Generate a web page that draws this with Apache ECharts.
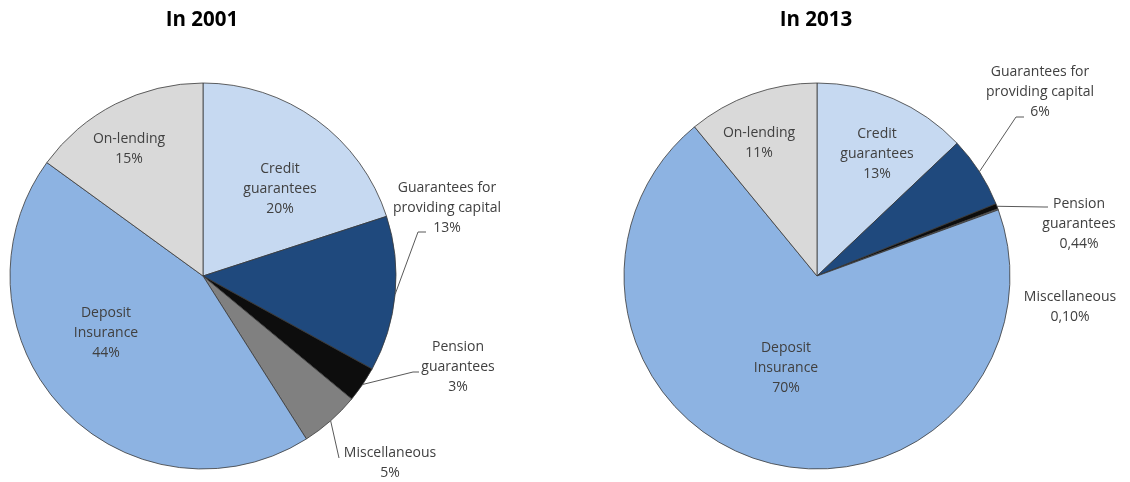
<!DOCTYPE html>
<html><head><meta charset="utf-8">
<script src="https://cdn.jsdelivr.net/npm/echarts@6/dist/echarts.min.js"></script>
<style>html,body{margin:0;padding:0;background:#fff}#c{width:1130px;height:482px}</style>
</head><body><div id="c"></div>
<script>
const categories = ['Credit\nguarantees', 'Guarantees for\nproviding capital', 'Pension\nguarantees', 'Miscellaneous', 'Deposit\nInsurance', 'On-lending'];
const values2001 = [20, 13, 3, 5, 44, 15];
const labels2001 = ['20%', '13%', '3%', '5%', '44%', '15%'];
const values2013 = [13, 6, 0.44, 0.10, 70, 11];
const labels2013 = ['13%', '6%', '0,44%', '0,10%', '70%', '11%'];
const titles = ['In 2001', 'In 2013'];

const colors = ['#C6D9F1', '#1F497D', '#0D0D0D', '#808080', '#8DB3E2', '#D9D9D9'];
// label placement offsets relative to pie centre (layout only)
const labelOffsets2001 = [[77, -87], [244, -68], [255, 91], [187, 187], [-97, 57], [-74, -127]];
const labelOffsets2013 = [[60, -122], [223, -184], [262, -52], [253, 31], [-31, 92], [-58, -133]];
// leader-line end points relative to pie centre, and the short last segment length (null = no line)
const lineEnds2001 = [null, [223, -44, 8], [216, 96, 6], [136, 182, 0], null, null];
const lineEnds2013 = [null, [207, -159, 8], [231, -69, 4], null, null, null];
const centers = [[203, 276], [817, 276]];
const R = 193;

function baseSeries(c) {
  return {
    type: 'pie',
    center: c,
    radius: [0, R],
    startAngle: 90,
    clockwise: true,
    avoidLabelOverlap: false,
    animation: false,
    silent: true
  };
}

function textSeries(idx, vals, labs, offs) {
  const c = centers[idx];
  return Object.assign(baseSeries(c), {
    itemStyle: { borderColor: '#3a3a3a', borderWidth: 0.8 },
    label: {
      show: true,
      position: 'inside',
      formatter: p => p.name + '\n' + p.data.pct,
      fontFamily: 'Open Sans',
      fontSize: 14,
      lineHeight: 20,
      color: '#404040',
      align: 'center'
    },
    labelLine: { show: false },
    labelLayout: function (p) {
      const o = offs[p.dataIndex];
      return { x: c[0] + o[0], y: c[1] + o[1], align: 'center', verticalAlign: 'middle' };
    },
    data: vals.map((v, i) => ({ name: categories[i], value: v, pct: labs[i], itemStyle: { color: colors[i] } }))
  });
}

function lineSeries(idx, vals, ends) {
  const c = centers[idx];
  return Object.assign(baseSeries(c), {
    z: 3,
    itemStyle: { color: 'rgba(0,0,0,0)', borderWidth: 0 },
    label: {
      show: true,
      position: 'outside',
      formatter: ' ',
      fontSize: 1,
      lineHeight: 2,
      width: 40,
      height: 2,
      color: 'rgba(0,0,0,0)'
    },
    labelLine: { show: true, length: 10, lineStyle: { color: '#595959', width: 1 } },
    labelLayout: function (p) {
      const e = ends[p.dataIndex];
      if (!e) return {};
      return { x: c[0] + e[0], y: c[1] + e[1], align: 'left', verticalAlign: 'middle' };
    },
    data: vals.map((v, i) => {
      const e = ends[i];
      return {
        name: categories[i],
        value: v,
        label: { show: !!e },
        labelLine: { show: !!e, length2: e ? e[2] : 0 }
      };
    })
  });
}

const chart = echarts.init(document.getElementById('c'), null, { renderer: 'canvas' });
chart.setOption({
  backgroundColor: '#fff',
  title: titles.map((t, i) => ({
    text: t,
    left: centers[i][0] - 6,
    top: 5,
    textAlign: 'center',
    textStyle: { fontFamily: 'Open Sans', fontWeight: 'bold', fontSize: 20.5, color: '#000' }
  })),
  series: [
    textSeries(0, values2001, labels2001, labelOffsets2001),
    textSeries(1, values2013, labels2013, labelOffsets2013),
    lineSeries(0, values2001, lineEnds2001),
    lineSeries(1, values2013, lineEnds2013)
  ]
});
</script>
</body></html>
